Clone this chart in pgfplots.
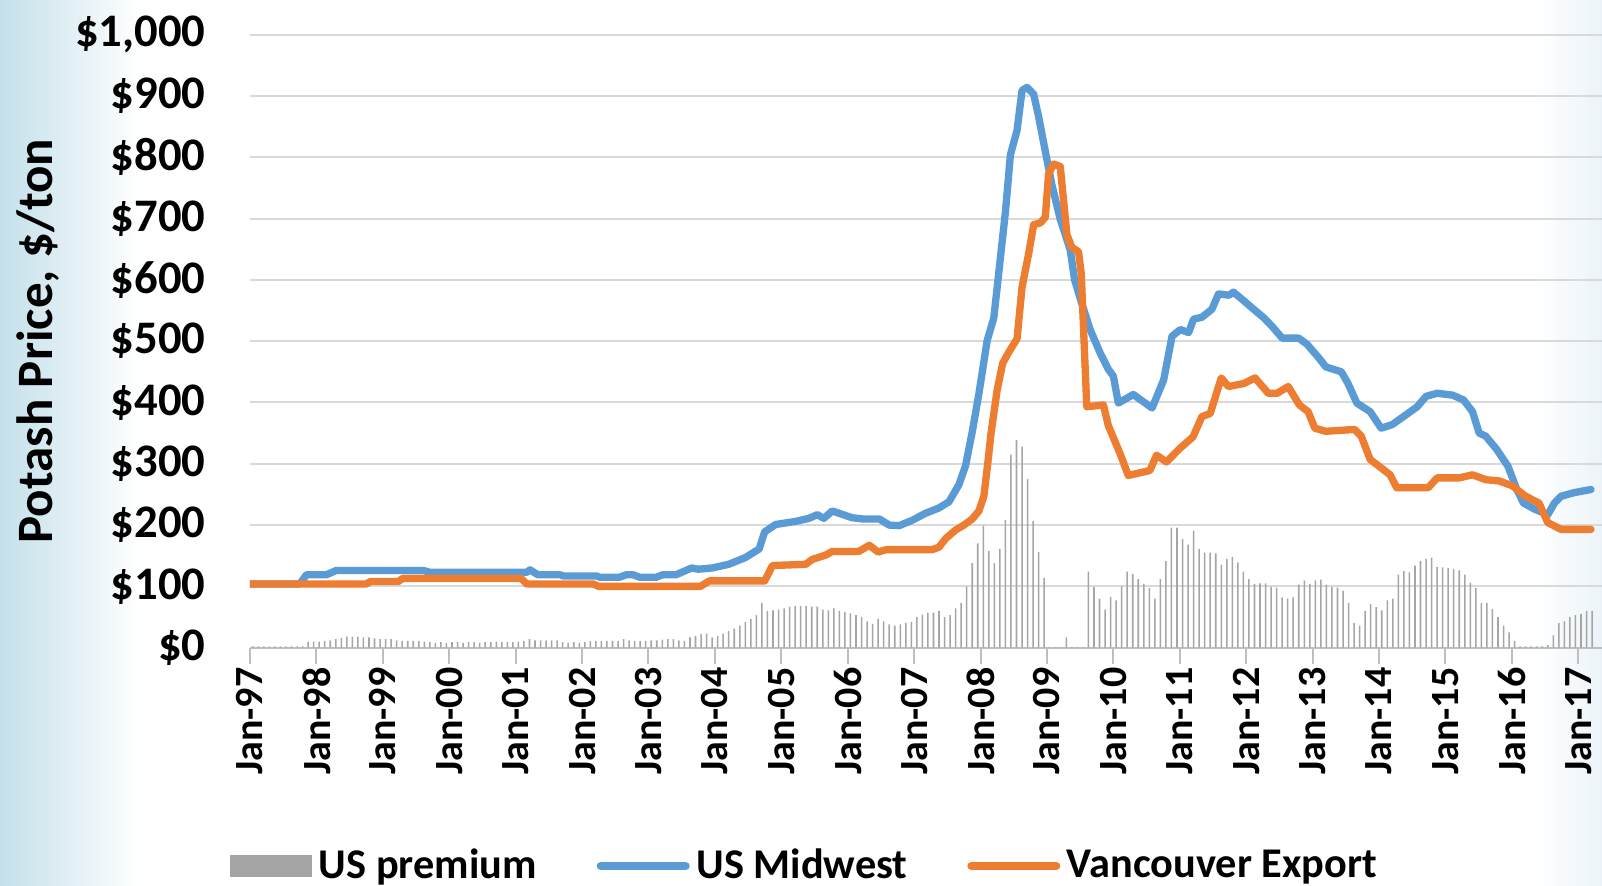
\documentclass[border=0pt]{standalone}
\usepackage{fontspec}
\setmainfont{Carlito}
\usepackage{pgfplots}
\usepackage{pgfplotstable}
\pgfplotsset{compat=1.18}
\definecolor{mblue}{RGB}{91,155,213}
\definecolor{morange}{RGB}{237,125,49}
\definecolor{premgray}{RGB}{165,165,165}
\definecolor{gridgray}{RGB}{217,217,217}
\definecolor{tickgray}{RGB}{191,191,191}
\definecolor{bgblue}{RGB}{196,224,234}
\definecolor{bgfaint}{RGB}{236,244,249}

\pgfplotstableread[row sep=\\]{
v\\
2\\2\\2\\2\\2\\2\\2\\2\\2\\2\\
10\\10\\10\\11\\12\\14\\16\\18\\18\\18\\17\\17\\15\\14\\
14\\14\\12\\11\\11\\11\\11\\10\\
9\\8\\9\\8\\9\\9\\8\\9\\9\\8\\9\\9\\10\\9\\9\\9\\
10\\11\\14\\12\\12\\12\\12\\12\\9\\8\\9\\8\\
9\\11\\11\\11\\11\\11\\11\\14\\12\\11\\11\\11\\12\\12\\13\\14\\
14\\12\\11\\17\\19\\22\\23\\17\\19\\23\\27\\31\\36\\42\\47\\53\\
73\\60\\61\\62\\64\\67\\68\\68\\68\\67\\67\\62\\61\\64\\60\\58\\
56\\53\\50\\43\\39\\47\\43\\38\\36\\38\\40\\42\\
50\\54\\57\\57\\60\\50\\53\\64\\73\\100\\138\\170\\
199\\158\\138\\161\\208\\315\\339\\328\\275\\207\\156\\114\\
1\\1\\1\\17\\1\\1\\1\\
124\\99\\80\\62\\83\\77\\100\\124\\120\\112\\104\\97\\
80\\112\\141\\196\\196\\177\\168\\191\\161\\155\\155\\154\\
135\\145\\148\\139\\124\\112\\104\\105\\105\\99\\98\\82\\
80\\82\\103\\110\\104\\110\\111\\103\\99\\98\\93\\73\\
40\\36\\60\\71\\66\\61\\77\\80\\119\\125\\123\\134\\
141\\145\\147\\132\\131\\130\\128\\126\\119\\106\\97\\73\\
73\\63\\50\\36\\25\\11\\2\\2\\2\\2\\2\\4\\
20\\40\\43\\50\\53\\55\\60\\60\\
}\prem

\pgfplotstableread{
m v
0 104
9 104
10.2 119
13.8 119
15.6 126
31.3 126
32.5 123
50 123
50.6 127
52 119
56 119
56.6 117
62.6 117
63.2 115
66.8 115
68 119
69.2 119
70.4 115
73.4 115
74.6 119
77 119
79.8 130
81 128
83.5 130
86.5 136
89.5 147
92 161
93 189
95 201
98.6 206
101 211
102.5 217
103.7 211
105.2 223
108.8 212
110.7 210
113.7 210
115.5 200
117.3 199
119.7 208
122 219
124.5 228
126.3 238
128.1 266
129.3 297
130.5 352
131.7 414
133.2 501
134.4 538
135.3 612
136.5 711
137.4 804
138.6 844
139.5 909
140.4 914
141.6 903
142.5 866
143.7 810
144.9 755
146.4 699
148.2 649
149 600
150 570
151.8 519
153.6 481
155.1 454
156 443
156.9 399
159.6 413
163 391
165.1 437
166.6 508
168.1 519
169.6 514
170.5 536
172 539
173.8 552
175 577
176.9 575
177.7 580
179.3 568
181.1 554
183.2 538
184.7 524
186.5 505
189.5 505
191 495
193.1 473
194.4 458
197.2 450
198.4 431
200 399
202.4 385
204.4 358
206.4 364
208.9 380
210.9 393
212.5 410
214.5 415
217.3 412
219.3 404
220.9 385
222.1 350
223.3 345
225.3 323
227.3 296
228.9 258
230.1 236
232.1 226
234.5 217
235.7 236
236.9 247
239.3 253
242.3 258
}\midwest

\pgfplotstableread{
m v
0 104
21 104
21.8 108
26.8 108
27.6 113
49 113
50 104
62 104
63 100
81.4 100
83 109
93 109
94.4 134
100.4 136
101.6 144
104 151
105.2 157
110 157
111.9 167
113.5 156
115 160
123.3 160
124.5 164
125.7 178
127.5 192
129 200
130.5 210
131.7 223
132.6 247
133.3 300
133.9 350
135 420
136 464
137.1 482
138.6 504
139.5 588
140.7 643
141.6 690
142.8 693
143.7 702
144.3 773
145.2 789
146.4 785
147 730
147.6 674
148.5 653
149.7 646
150.2 610
151.2 393
154.2 396
155.1 362
157.2 317
158.7 281
162.6 289
163.8 314
165.6 303
168 325
170.4 344
172 377
173.5 382
175.5 440
176.8 426
179.6 431
181.6 440
184 415
185.6 415
187.6 426
189.6 396
191.2 385
192.4 358
194.4 353
199.6 356
200.8 345
202.4 307
204 296
206 282
207.2 261
212.9 261
214.5 277
218.5 277
220.9 282
223.3 274
225.7 272
228.1 264
230.5 247
232.9 236
234.5 204
236.9 193
242.3 193
}\vancouver

\begin{document}
\begin{tikzpicture}
\path[use as bounding box] (-75pt,-71.2pt) rectangle (405.6pt,194.3pt);
\shade[left color=bgblue, right color=white] (-75pt,-71.2pt) rectangle (-33pt,194.3pt);
\shade[left color=white, right color=bgfaint] (385pt,-71.2pt) rectangle (405.6pt,194.3pt);
\begin{axis}[
  at={(0pt,0pt)}, anchor=south west,
  scale only axis,
  width=405.6pt, height=183.9pt,
  xmin=0, xmax=244.3,
  ymin=0, ymax=1000,
  axis lines=left,
  axis line style={-},
  y axis line style={draw=none},
  x axis line style={draw=tickgray, line width=0.6pt},
  xtick={0,12,...,240},
  xticklabels={Jan-97,Jan-98,Jan-99,Jan-00,Jan-01,Jan-02,Jan-03,Jan-04,Jan-05,Jan-06,Jan-07,Jan-08,Jan-09,Jan-10,Jan-11,Jan-12,Jan-13,Jan-14,Jan-15,Jan-16,Jan-17},
  ytick={0,100,...,1000},
  yticklabels={\$0,\$100,\$200,\$300,\$400,\$500,\$600,\$700,\$800,\$900,{\$1,000}},
  ymajorgrids,
  grid style={gridgray, line width=0.6pt},
  tick align=outside,
  major tick length=4.8pt,
  xtick style={tickgray, line width=0.6pt},
  ytick style={draw=none},
  xticklabel style={rotate=90, anchor=east, font=\bfseries\fontsize{12}{14}\selectfont, inner sep=1pt},
  yticklabel style={font=\bfseries\fontsize{14}{16}\selectfont, xshift=-5pt},
  ylabel={Potash Price, \$/ton},
  every axis y label/.style={at={(rel axis cs:-0.1568,0.5)}, rotate=90, anchor=center, font=\bfseries\fontsize{15.3}{18}\selectfont},
  legend columns=3,
  legend style={at={(0.412,-0.356)}, anchor=center, draw=none, fill=none,
    font=\bfseries\fontsize{12.7}{15}\selectfont,
    /tikz/every even column/.append style={column sep=16pt}},
  legend cell align=left,
  clip=true,
]
\addplot[ybar, bar width=0.28, fill=premgray, draw=none,
  legend image code/.code={\fill[premgray] (0pt,-3.3pt) rectangle (24.6pt,3.3pt);}]
  table[x expr=\coordindex+0.5, y=v] {\prem};
\addlegendentry{US premium}
\addplot[mblue, line width=2.2pt, line join=round, line cap=round,
  legend image code/.code={\draw[mblue, line width=2.4pt] (1pt,0pt) -- (26.5pt,0pt);}]
  table[x=m, y=v] {\midwest};
\addlegendentry{US Midwest}
\addplot[morange, line width=2.2pt, line join=round, line cap=round,
  legend image code/.code={\draw[morange, line width=2.4pt] (1pt,0pt) -- (26.5pt,0pt);}]
  table[x=m, y=v] {\vancouver};
\addlegendentry{Vancouver Export}
\end{axis}
\end{tikzpicture}
\end{document}
